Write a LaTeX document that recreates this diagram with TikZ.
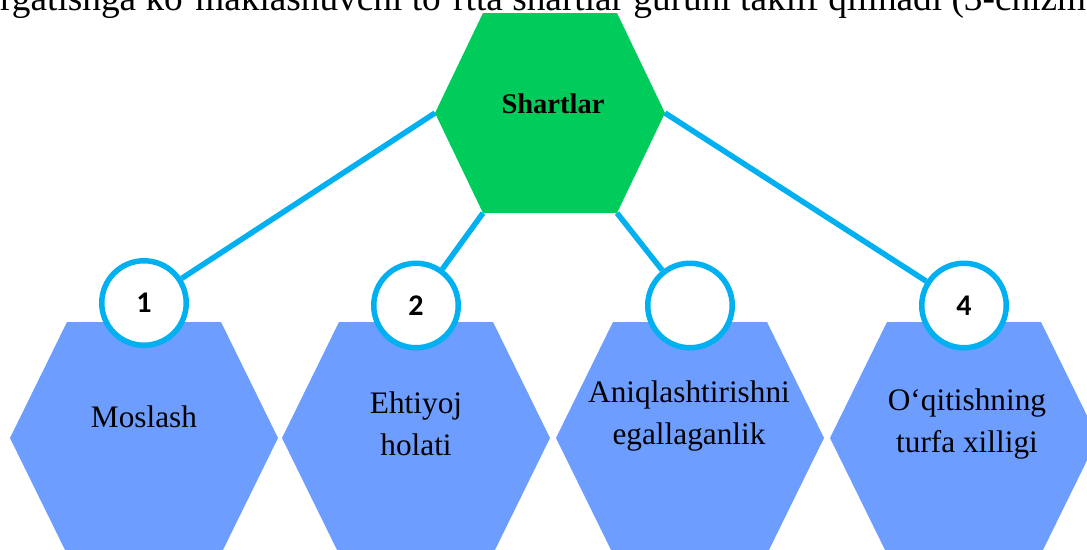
\documentclass[tikz,border=0pt]{standalone}
\usepackage{fontspec}
\setmainfont{Liberation Serif}
\newfontfamily\numfont{Carlito}
\definecolor{hexblue}{RGB}{109,157,255}
\definecolor{hexgreen}{RGB}{0,204,92}
\definecolor{linecyan}{RGB}{0,176,240}
\newcommand{\twoline}[2]{\vtop{\baselineskip=42.5pt\halign{\hfil##\hfil\cr#1\cr#2\cr}}}
\tikzset{
  conn/.style={draw=linecyan, line width=5.5pt},
  numcircle/.style={circle, draw=linecyan, line width=5.5pt, fill=white, minimum size=84.5pt, inner sep=0pt, font=\numfont\bfseries\fontsize{30}{33}\selectfont},
  lbl/.style={anchor=base, inner sep=0pt, font=\fontsize{31.3}{42.5}\selectfont},
  bluehex/.style={fill=hexblue},
  greenhex/.style={fill=hexgreen}
}
\begin{document}
\begin{tikzpicture}[x=1pt,y=-1pt]
\useasboundingbox (0,0) rectangle (1087,549);
\clip (0,0) rectangle (1087,549);
% top cut-off text line
\node[anchor=base west, inner sep=0pt, font=\fontsize{37.3}{42}\selectfont] (toptext) at (0,10)
  {rgatishga ko‘maklashuvchi to‘rtta shartlar guruhi taklif qilinadi (3-chizma)};
% green hexagon
\coordinate (g) at (550,113);
\fill[greenhex, shift={(g)}] (-115,0) -- (-67,-100) -- (67,-100) -- (115,0) -- (67,100) -- (-67,100) -- cycle;
\node[anchor=base, inner sep=0pt, font=\bfseries\fontsize{28.5}{32}\selectfont] (shartlar) at (553,113) {Shartlar};
\coordinate (gL) at (435,113);
\coordinate (gBL) at (483,213);
\coordinate (gBR) at (617,213);
\coordinate (gR) at (665,113);
% bottom hexagons
\coordinate (b1) at (144,438);
\coordinate (b2) at (416,438);
\coordinate (b3) at (690,438);
\coordinate (b4) at (964,438);
\foreach \b in {b1,b2,b3,b4}{
  \fill[bluehex, shift={(\b)}] (-134,0) -- (-77,-116) -- (77,-116) -- (134,0) -- (77,116) -- (-77,116) -- cycle;
}
\node[lbl] (t1) at (144,427) {Moslash};
\node[lbl] (t2) at (416,413) {\twoline{Ehtiyoj}{holati}};
\node[lbl] (t3) at (689,402) {\twoline{Aniqlashtirishni}{egallaganlik}};
\node[lbl] (t4) at (967,410) {\twoline{O‘qitishning}{turfa xilligi}};
% circles
\node[numcircle] (c1) at (144,303) {1};
\node[numcircle] (c2) at (416,305.5) {2};
\node[numcircle] (c3) at (690,305.5) {};
\node[numcircle] (c4) at (964,305.5) {4};
% connectors
\draw[conn] (gL) -- (c1);
\draw[conn] (gBL) -- (c2);
\draw[conn] (gBR) -- (c3);
\draw[conn] (gR) -- (c4);
\end{tikzpicture}
\end{document}
